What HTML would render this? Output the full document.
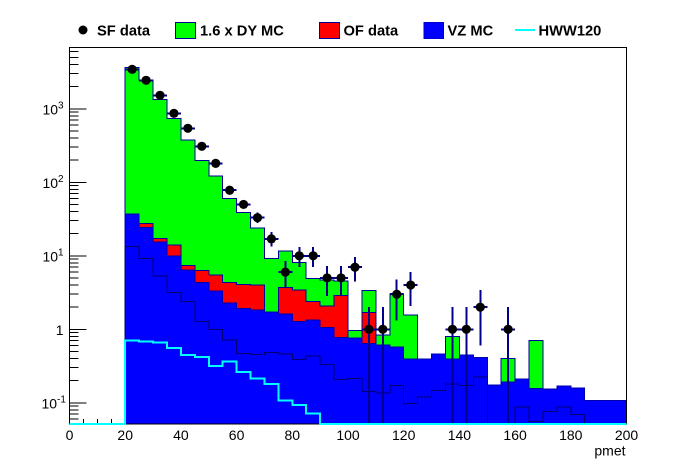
<!DOCTYPE html>
<html lang="en">
<head>
<meta charset="utf-8">
<title>pmet distribution</title>
<style>
  html, body { margin: 0; padding: 0; background: #fff; width: 696px; height: 472px; overflow: hidden; }
  svg { display: block; font-family: "Liberation Sans", Arial, sans-serif; }
  .lab { font-size: 14px; fill: #000; }
  .sup { font-size: 10px; fill: #000; }
  .leg { font-size: 14.7px; font-weight: bold; fill: #000; }
</style>
</head>
<body>
<svg id="chart" xmlns="http://www.w3.org/2000/svg" width="696" height="472" viewBox="0 0 696 472">
  <g id="ticks"></g>
  <g id="hists"></g>
  <g id="points"></g>
  <g id="labels"></g>

  <g>
    <g>
      <circle cx="83" cy="30" r="4.5" fill="#000"/>
      <text class="leg" x="97" y="35.5">SF data</text>
    </g>
    <g>
      <rect x="175.5" y="22.5" width="20" height="16" fill="#00ff00" stroke="#000099" shape-rendering="crispEdges"/>
      <text class="leg" x="200" y="35.5">1.6 x DY MC</text>
    </g>
    <g>
      <rect x="319.5" y="22.5" width="20" height="16" fill="#ff0000" stroke="#000099" shape-rendering="crispEdges"/>
      <text class="leg" x="343.5" y="35.5">OF data</text>
    </g>
    <g>
      <rect x="424" y="22.5" width="19.5" height="16" fill="#0000ff" stroke="#0000cc" shape-rendering="crispEdges"/>
      <text class="leg" x="447.5" y="35.5">VZ MC</text>
    </g>
    <g>
      <line x1="515" y1="30" x2="535" y2="30" stroke="#00ffff" stroke-width="2" shape-rendering="crispEdges"/>
      <text class="leg" x="538.5" y="35.5">HWW120</text>
    </g>
  </g>
</svg>

<script>
// Bins run from 20 to 200 in steps of 5
const binStart = 20;
const binWidth = 5;

const vzMC = [37.0,24.4,15.3,9.94,6.41,4.31,3.32,2.28,1.93,1.83,1.72,1.61,1.27,1.34,1.05,0.778,0.762,0.645,0.611,0.574,0.394,0.394,0.461,0.394,0.447,0.416,0.175,0.192,0.211,0.157,0.154,0.168,0.159,0.108,0.108,0.108];
const ofData = [0,3.3,2.0,4.0,1.02,1.96,2.16,2.03,2.16,2.18,0,2.12,2.16,1.06,1.01,2.12,0,1.06,0,0,0,0,0,0,0,0,0,0,0,0,0,0,0,0,0,0];
const dyMC = [3633,2438,1329,729,366,193,115.5,56.3,34.9,19.7,7.53,7.97,4.72,2.48,2.63,1.64,0.208,1.65,0.219,2.45,1.16,0,0,0.406,0,0,0,0.211,0,0.551,0,0,0,0,0,0];
const thinMC = [13.3,9.25,5.31,3.19,2.40,1.28,1.0,0.715,0.471,0.457,0.486,0.461,0.391,0.433,0.334,0.209,0.215,0.143,0.135,0.173,0.098,0.119,0.148,0.179,0.171,0.226,0,0,0.087,0.0553,0.0766,0.087,0.0698,0,0,0];
const hww120 = [0.70,0.678,0.657,0.557,0.447,0.42,0.317,0.362,0.262,0.213,0.18,0.108,0.094,0.071,0,0,0,0,0,0,0,0,0,0,0,0,0,0,0,0,0,0,0,0,0,0];
const sfData = [3445,2443,1527,868,543,309,181,78,50,33,17,6,10,10,5,5,7,1,1,3,4,0,0,1,1,2,0,1,0,0,0,0,0,0,0,0];

const xTickLabels = [0,20,40,60,80,100,120,140,160,180,200];
const xMinorTicks = [5,10,15];
const yDecades = [-2,-1,0,1,2,3];

const xMin = 0, xMax = 200;
const yMin = 0.051, yMax = 6900;
const plotLeft = 69.5, plotRight = 626.5, plotTop = 47.5, plotBottom = 424;
const yOne = 329.3, decadePx = 73.5;
const NS = 'http://www.w3.org/2000/svg';

function xPos(v) { return plotLeft + (v - xMin) * (plotRight - plotLeft) / (xMax - xMin); }
function yPos(v) {
  if (v <= yMin) return plotBottom;
  return Math.max(plotTop, yOne - decadePx * Math.log10(v));
}
function make(parent, tag, attrs, text) {
  const el = document.createElementNS(NS, tag);
  for (const k in attrs) el.setAttribute(k, attrs[k]);
  if (text !== undefined) el.textContent = text;
  parent.appendChild(el);
  return el;
}
function stepPath(vals, fromLeft) {
  let d = fromLeft ? 'M' + xPos(xMin) + ' ' + plotBottom + 'L' + xPos(binStart) + ' ' + plotBottom
                   : 'M' + xPos(binStart) + ' ' + plotBottom;
  vals.forEach(function (v, i) {
    const lo = binStart + i * binWidth;
    d += 'L' + xPos(lo) + ' ' + yPos(v) + 'L' + xPos(lo + binWidth) + ' ' + yPos(v);
  });
  d += 'L' + xPos(binStart + vals.length * binWidth) + ' ' + plotBottom;
  return d;
}

const redTop = vzMC.map(function (v, i) { return v + ofData[i]; });
const greenTop = redTop.map(function (v, i) { return v + dyMC[i]; });

// Ticks
const tickG = document.getElementById('ticks');
yDecades.forEach(function (e) {
  for (let m = 1; m <= 9; m++) {
    const val = m * Math.pow(10, e);
    if (val < yMin || val > yMax) continue;
    const y = yPos(val);
    const t = make(tickG, 'line', { x1: plotLeft, y1: y, x2: plotLeft + (m === 1 ? 17 : 9), y2: y, stroke: '#000', 'stroke-width': 1, 'shape-rendering': 'crispEdges' });
    
    
  }
});
xMinorTicks.forEach(function (v) {
  const t = make(tickG, 'line', { x1: xPos(v), y1: plotBottom, x2: xPos(v), y2: plotBottom - 5, stroke: '#000', 'stroke-width': 1, 'shape-rendering': 'crispEdges' });
  
  
});

// Stacked histograms
const histG = document.getElementById('hists');
const greenPath = make(histG, 'path', { d: stepPath(greenTop) + 'Z', fill: '#00ff00', stroke: '#000099', 'stroke-width': 1, 'shape-rendering': 'crispEdges' });


const redPath = make(histG, 'path', { d: stepPath(redTop) + 'Z', fill: '#ff0000', stroke: '#000099', 'stroke-width': 1, 'shape-rendering': 'crispEdges' });


const bluePath = make(histG, 'path', { d: stepPath(vzMC) + 'Z', fill: '#0000ff', stroke: '#0000aa', 'stroke-width': 1, 'shape-rendering': 'crispEdges' });


const thinPath = make(histG, 'path', { d: stepPath(thinMC), fill: 'none', stroke: '#00006e', 'stroke-width': 1, 'shape-rendering': 'crispEdges' });



// Frame
const frame = make(histG, 'rect', { x: plotLeft, y: plotTop, width: plotRight - plotLeft, height: plotBottom - plotTop, fill: 'none', stroke: '#000', 'stroke-width': 1, 'shape-rendering': 'crispEdges' });



// Signal line
const hwwPath = make(histG, 'path', { d: stepPath(hww120, true), fill: 'none', stroke: '#00ffff', 'stroke-width': 2, 'shape-rendering': 'crispEdges' });



// Data points with sqrt(N) error bars
const pointG = document.getElementById('points');
sfData.forEach(function (n, i) {
  if (n <= 0) return;
  const cx = binStart + (i + 0.5) * binWidth;
  const err = Math.sqrt(n);
  const g = make(pointG, 'g', {});
  
  
  make(g, 'line', { x1: xPos(cx), y1: yPos(n + err), x2: xPos(cx), y2: yPos(n - err) - 1, stroke: '#00008b', 'stroke-width': 2, 'shape-rendering': 'crispEdges' });
  make(g, 'line', { x1: xPos(cx - binWidth / 2), y1: yPos(n), x2: xPos(cx + binWidth / 2), y2: yPos(n), stroke: '#00008b', 'stroke-width': 2, 'shape-rendering': 'crispEdges' });
  make(g, 'circle', { cx: xPos(cx), cy: yPos(n), r: 4.6, fill: '#000' });
});

// Labels
const labelG = document.getElementById('labels');
xTickLabels.forEach(function (v) {
  const t = make(labelG, 'text', { class: 'lab', x: xPos(v), y: 440, 'text-anchor': 'middle' }, String(v));
  
  
});
yDecades.forEach(function (e) {
  if (e < -1) return;
  const y = yPos(Math.pow(10, e)) + 5.5;
  if (e === 0) {
    const one = make(labelG, 'text', { class: 'lab', x: 63.5, y: y, 'text-anchor': 'end' }, '1');
    
    
    return;
  }
  const startX = e < 0 ? 41.5 : 42.5;
  const base = make(labelG, 'text', { class: 'lab', x: startX, y: y }, '10');
  
  
  const sup = make(labelG, 'text', { class: 'sup', x: startX + 15.5, y: y - 6 }, String(e));
  
  
});
const xTitle = make(labelG, 'text', { class: 'lab', x: 625.5, y: 455.5, 'text-anchor': 'end' }, 'pmet');


</script>
</body>
</html>
